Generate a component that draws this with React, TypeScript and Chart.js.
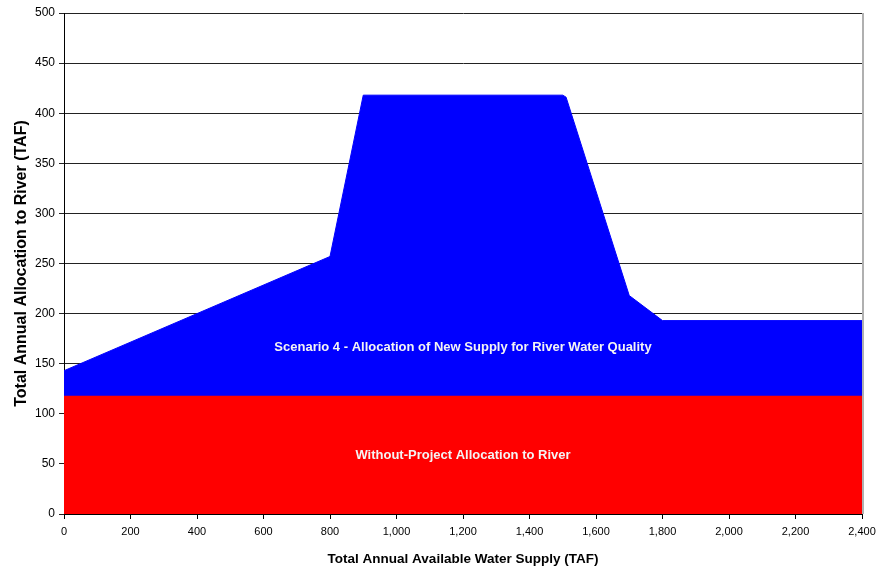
import React, { useEffect, useRef } from "react";
import { Chart, registerables } from "chart.js";

Chart.register(...registerables);

// Total annual available water supply (TAF) break points
const supplyX = [0, 800, 900, 1500, 1510, 1700, 1800, 2400];
// Scenario 4 total allocation to river (TAF)
const scenarioY = [143, 257, 418, 418, 416, 218, 193, 193];
// Without-project allocation to river (TAF)
const baseX = [0, 2400];
const baseY = [118, 118];

const areaLabels = [
  "Scenario 4 - Allocation of New Supply for River Water Quality",
  "Without-Project Allocation to River",
];
const areaLabelX = [1200, 1200];
const areaLabelY = [166, 58];

const xTitle = "Total Annual Available Water Supply (TAF)";
const yTitle = "Total Annual Allocation to River (TAF)";

const FONT = "'Liberation Sans', Arial, sans-serif";

const areaLabelPlugin = {
  id: "areaLabels",
  afterDatasetsDraw(chart: any) {
    const { ctx, scales } = chart;
    ctx.save();
    ctx.fillStyle = "#f4f4f4";
    ctx.font = `bold 13px ${FONT}`;
    ctx.textAlign = "center";
    ctx.textBaseline = "middle";
    areaLabels.forEach((t, i) => {
      ctx.fillText(
        t,
        scales.x.getPixelForValue(areaLabelX[i]),
        scales.y.getPixelForValue(areaLabelY[i])
      );
    });
    ctx.restore();
  },
};

const frameEdgePlugin = {
  id: "frameEdge",
  afterDatasetsDraw(chart: any) {
    const { ctx, chartArea } = chart;
    ctx.save();
    ctx.strokeStyle = "#b0b0b0";
    ctx.lineWidth = 2;
    ctx.beginPath();
    ctx.moveTo(chartArea.right + 1, chartArea.top);
    ctx.lineTo(chartArea.right + 1, chartArea.bottom);
    ctx.stroke();
    ctx.restore();
  },
};

export default function App() {
  const canvasRef = useRef<HTMLCanvasElement | null>(null);

  useEffect(() => {
    if (!canvasRef.current) return;
    const chart = new Chart(canvasRef.current, {
      type: "line",
      data: {
        datasets: [
          {
            label: "Scenario 4",
            data: supplyX.map((x, i) => ({ x, y: scenarioY[i] })),
            backgroundColor: "#0000ff",
            borderColor: "#0000ff",
            borderWidth: 1,
            pointRadius: 0,
            fill: "origin",
            tension: 0,
            order: 2,
          },
          {
            label: "Without-Project",
            data: baseX.map((x, i) => ({ x, y: baseY[i] })),
            backgroundColor: "#ff0000",
            borderColor: "#ff0000",
            borderWidth: 0,
            pointRadius: 0,
            fill: "origin",
            tension: 0,
            order: 1,
          },
        ],
      },
      options: {
        responsive: true,
        maintainAspectRatio: false,
        animation: false,
        layout: { padding: { left: 12, right: 18, top: 13, bottom: 4 } },
        plugins: {
          legend: { display: false },
          tooltip: { enabled: false },
        },
        scales: {
          x: {
            type: "linear",
            min: 0,
            max: 2400,
            ticks: {
              stepSize: 200,
              color: "#000",
              font: { family: FONT, size: 11 },
              maxRotation: 0,
              padding: 6,
            },
            grid: {
              drawOnChartArea: false,
              drawTicks: true,
              tickLength: 5,
              color: "#000",
            },
            border: { color: "#000", width: 1 },
            title: {
              display: true,
              text: xTitle,
              color: "#000",
              font: { family: FONT, size: 13.5, weight: "bold" },
              padding: { top: 4, bottom: 0 },
            },
            afterFit: (scale: any) => {
              scale.height = 53;
              scale.paddingLeft = 0;
              scale.paddingRight = 0;
            },
          },
          y: {
            min: 0,
            max: 500,
            ticks: {
              stepSize: 50,
              color: "#000",
              font: { family: FONT, size: 12 },
              padding: 4,
            },
            grid: {
              color: "#222",
              tickLength: 5,
            },
            border: { color: "#000", width: 1 },
            title: {
              display: true,
              text: yTitle,
              color: "#000",
              font: { family: FONT, size: 16, weight: "bold" },
              padding: { top: 0, bottom: 4 },
            },
            afterFit: (scale: any) => {
              scale.width = 52;
              scale.paddingTop = 0;
              scale.paddingBottom = 0;
            },
          },
        },
      },
      plugins: [areaLabelPlugin, frameEdgePlugin],
    });
    return () => chart.destroy();
  }, []);

  return (
    <div
      style={{
        position: "absolute",
        left: 0,
        top: 0,
        width: 880,
        height: 571,
        background: "#fff",
      }}
    >
      <canvas ref={canvasRef} />
    </div>
  );
}
